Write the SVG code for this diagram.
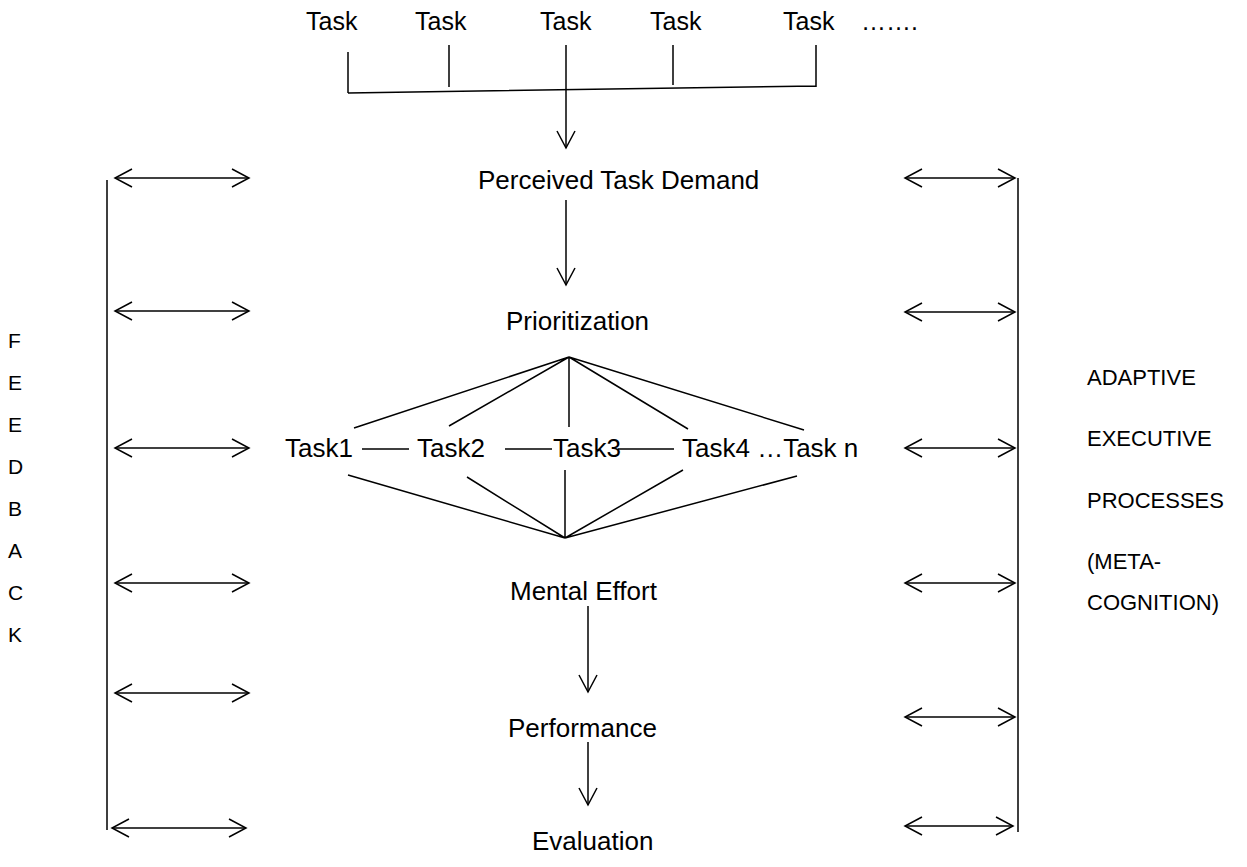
<svg xmlns="http://www.w3.org/2000/svg" width="1247" height="867" viewBox="0 0 1247 867">
<style>
text{font-family:"Liberation Sans",Arial,sans-serif;fill:#000}
.t{font-size:25px}
.m{font-size:26px}
.s{font-size:21px}
.r{font-size:22px}
.ln{stroke:#000;stroke-width:1.5;fill:none}
.ar{stroke:#000;stroke-width:1.5;fill:none;marker-end:url(#v)}
.da{stroke:#000;stroke-width:1.5;fill:none;marker-start:url(#v);marker-end:url(#v)}
</style>
<defs>
<marker id="v" markerUnits="userSpaceOnUse" viewBox="0 0 20 20" refX="18" refY="10" markerWidth="20" markerHeight="20" orient="auto-start-reverse">
<path d="M1,1 L18,10 L1,19" fill="none" stroke="#000" stroke-width="1.5"/>
</marker>
</defs>
<rect width="1247" height="867" fill="#fff"/>
<g id="top-tasks">
<text class="t" x="306" y="30">Task</text>
<text class="t" x="415" y="30">Task</text>
<text class="t" x="540" y="30">Task</text>
<text class="t" x="650" y="30">Task</text>
<text class="t" x="783" y="30">Task</text>
<text class="t" x="861" y="30">…….</text>
</g>
<g id="perceived"><text class="m" x="478" y="189">Perceived Task Demand</text></g>
<g id="prioritization"><text class="m" x="506" y="330">Prioritization</text></g>
<g id="task-row">
<text class="m" x="285" y="457">Task1</text>
<text class="m" x="417" y="457">Task2</text>
<text class="m" x="553" y="457">Task3</text>
<text class="m" x="682" y="457">Task4 …Task n</text>
</g>
<g id="mental-effort"><text class="m" x="510" y="600">Mental Effort</text></g>
<g id="performance"><text class="m" x="508" y="737">Performance</text></g>
<g id="evaluation"><text class="m" x="532" y="850">Evaluation</text></g>
<g id="feedback">
<text class="s" x="8" y="348">F</text>
<text class="s" x="8" y="390">E</text>
<text class="s" x="8" y="432">E</text>
<text class="s" x="8" y="474">D</text>
<text class="s" x="8" y="516">B</text>
<text class="s" x="8" y="558">A</text>
<text class="s" x="8" y="600">C</text>
<text class="s" x="8" y="642">K</text>
</g>
<g id="adaptive">
<text class="r" x="1087" y="385">ADAPTIVE</text>
<text class="r" x="1087" y="446">EXECUTIVE</text>
<text class="r" x="1087" y="508">PROCESSES</text>
<text class="r" x="1087" y="569">(META-</text>
<text class="r" x="1087" y="610">COGNITION)</text>
</g>
<g id="connectors">
<path class="ln" d="M348,52 V93 M449,45 V87 M673,45 V85 M816,45 V87 M348,93 L816,86"/>
<path class="ar" d="M566,45 V148"/>
<path class="ar" d="M566,200 V285"/>
<path class="ln" d="M569,357 L354,428 M569,357 L449,426 M569,357 L569,427 M569,357 L688,429 M569,357 L804,430"/>
<path class="ln" d="M362,449 H409 M505,449 H552 M618,449 H674"/>
<path class="ln" d="M565,538 L348,475 M565,538 L467,477 M565,538 L565,470 M565,538 L683,470 M565,538 L797,476"/>
<path class="ar" d="M588,606 V692"/>
<path class="ar" d="M588,742 V805"/>
<path class="ln" d="M107,180 V830 M1018,178 V832"/>
<path class="da" d="M115,178 H249"/>
<path class="da" d="M115,311 H249"/>
<path class="da" d="M115,448 H249"/>
<path class="da" d="M115,583 H249"/>
<path class="da" d="M115,693 H249"/>
<path class="da" d="M112,828 H246"/>
<path class="da" d="M905,178 H1015"/>
<path class="da" d="M905,312 H1015"/>
<path class="da" d="M905,448 H1015"/>
<path class="da" d="M905,583 H1015"/>
<path class="da" d="M905,717 H1015"/>
<path class="da" d="M905,826 H1013"/>
</g>
</svg>
